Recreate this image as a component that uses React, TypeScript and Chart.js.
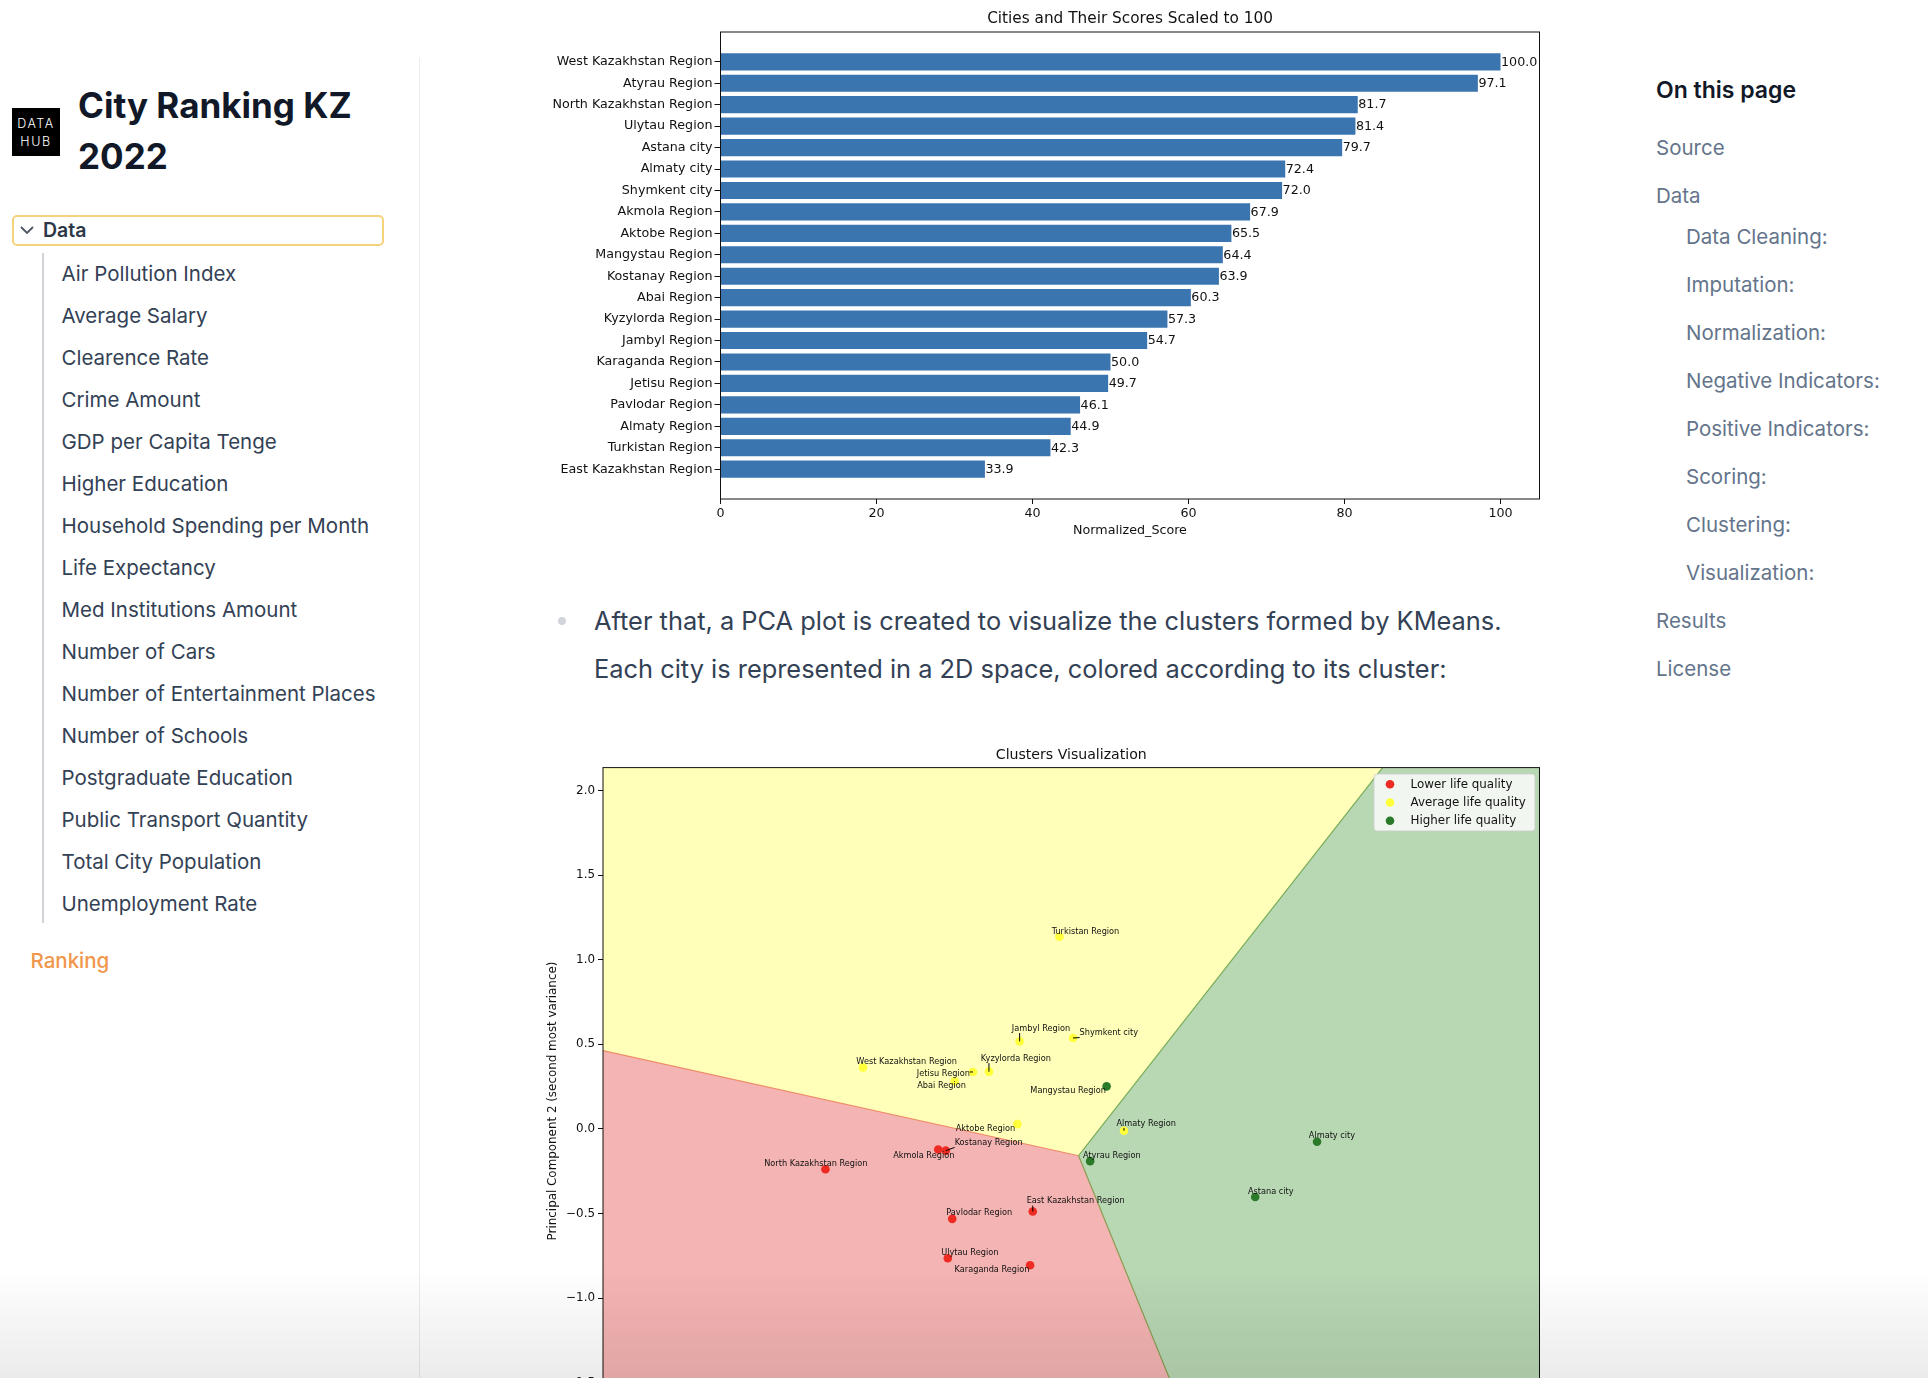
import React, { useEffect, useRef } from "react";
import { Chart, registerables } from "chart.js";

Chart.register(...registerables);

// ---------- Bar chart data ----------
const CITIES = [
  "West Kazakhstan Region", "Atyrau Region", "North Kazakhstan Region", "Ulytau Region",
  "Astana city", "Almaty city", "Shymkent city", "Akmola Region", "Aktobe Region",
  "Mangystau Region", "Kostanay Region", "Abai Region", "Kyzylorda Region", "Jambyl Region",
  "Karaganda Region", "Jetisu Region", "Pavlodar Region", "Almaty Region", "Turkistan Region",
  "East Kazakhstan Region",
];
const SCORES = [100.0, 97.1, 81.7, 81.4, 79.7, 72.4, 72.0, 67.9, 65.5, 64.4, 63.9, 60.3, 57.3, 54.7, 50.0, 49.7, 46.1, 44.9, 42.3, 33.9];
const SCORE_AXIS_MAX = 105;
const SCORE_TICK_STEP = 20;

// ---------- PCA scatter data ----------
const CLUSTER_NAMES = ["Lower life quality", "Average life quality", "Higher life quality"];

const LOWER_CITIES = ["North Kazakhstan Region", "Akmola Region", "Kostanay Region", "Pavlodar Region", "East Kazakhstan Region", "Ulytau Region", "Karaganda Region"];
const LOWER_PC1 = [-1.599, -1.092, -1.058, -1.029, -0.667, -1.049, -0.679];
const LOWER_PC2 = [-0.239, -0.122, -0.129, -0.532, -0.489, -0.765, -0.806];
const LOWER_LABEL_X = [-1.642, -1.157, -0.865, -0.908, -0.474, -0.950, -0.850];
const LOWER_LABEL_Y = [-0.207, -0.157, -0.083, -0.494, -0.427, -0.733, -0.835];

const AVERAGE_CITIES = ["Turkistan Region", "Jambyl Region", "Shymkent city", "West Kazakhstan Region", "Jetisu Region", "Kyzylorda Region", "Abai Region", "Aktobe Region", "Almaty Region"];
const AVERAGE_PC1 = [-0.547, -0.726, -0.486, -1.430, -0.936, -0.864, -1.018, -0.736, -0.257];
const AVERAGE_PC2 = [1.135, 0.517, 0.537, 0.363, 0.336, 0.338, 0.281, 0.028, -0.011];
const AVERAGE_LABEL_X = [-0.430, -0.630, -0.325, -1.234, -1.069, -0.743, -1.077, -0.880, -0.157];
const AVERAGE_LABEL_Y = [1.163, 0.593, 0.566, 0.393, 0.324, 0.415, 0.256, -0.002, 0.032];

const HIGHER_CITIES = ["Mangystau Region", "Atyrau Region", "Almaty city", "Astana city"];
const HIGHER_PC1 = [-0.335, -0.409, 0.611, 0.333];
const HIGHER_PC2 = [0.251, -0.191, -0.076, -0.403];
const HIGHER_LABEL_X = [-0.508, -0.312, 0.678, 0.403];
const HIGHER_LABEL_Y = [0.227, -0.157, -0.044, -0.371];

// KMeans decision boundaries (junction + a point on each boundary ray)
const BOUNDARY_JUNCTION = [-0.461, -0.159];
const BOUNDARY_LOWER_AVERAGE = [-2.599, 0.462];
const BOUNDARY_AVERAGE_HIGHER = [0.906, 2.135];
const BOUNDARY_LOWER_HIGHER = [-0.051, -1.48];
const PC2_TICK_STEP = 0.5;

// ---------- Page text ----------
const DATA_PAGES = [
  "Air Pollution Index", "Average Salary", "Clearence Rate", "Crime Amount", "GDP per Capita Tenge",
  "Higher Education", "Household Spending per Month", "Life Expectancy", "Med Institutions Amount",
  "Number of Cars", "Number of Entertainment Places", "Number of Schools", "Postgraduate Education",
  "Public Transport Quantity", "Total City Population", "Unemployment Rate",
];
const TOC_TOP = ["Source", "Data"];
const TOC_SUB = ["Data Cleaning:", "Imputation:", "Normalization:", "Negative Indicators:", "Positive Indicators:", "Scoring:", "Clustering:", "Visualization:"];
const TOC_BOTTOM = ["Results", "License"];

const MPL_FONT = '"DejaVu Sans"';
const UI_FONT = 'Inter, "Noto Sans", sans-serif';

// ---------- plugins ----------
const spinesPlugin = {
  id: "spines",
  afterDraw(chart: any) {
    const { ctx, chartArea: a } = chart;
    ctx.save();
    ctx.strokeStyle = "#111";
    ctx.lineWidth = 1;
    ctx.strokeRect(a.left, a.top, a.right - a.left, a.bottom - a.top);
    ctx.restore();
  },
};

const axesTitlePlugin = {
  id: "axesTitle",
  afterDraw(chart: any, _args: any, opts: any) {
    const { ctx, chartArea: a } = chart;
    ctx.save();
    ctx.font = `${opts.size}px ${MPL_FONT}`;
    ctx.fillStyle = "#111";
    ctx.textAlign = "center";
    ctx.textBaseline = "middle";
    ctx.fillText(opts.text, (a.left + a.right) / 2, a.top - opts.gap);
    ctx.restore();
  },
};

const barValuesPlugin = {
  id: "barValues",
  afterDatasetsDraw(chart: any) {
    const { ctx } = chart;
    const meta = chart.getDatasetMeta(0);
    ctx.save();
    ctx.font = `12.7px ${MPL_FONT}`;
    ctx.fillStyle = "#111";
    ctx.textAlign = "left";
    ctx.textBaseline = "middle";
    meta.data.forEach((bar: any, i: number) => {
      ctx.fillText(SCORES[i].toFixed(1), bar.x + 0.5, bar.y + 0.5);
    });
    ctx.restore();
  },
};

const regionsPlugin = {
  id: "regions",
  beforeDatasetsDraw(chart: any) {
    const { ctx, chartArea: a, scales } = chart;
    const px = (p: number[]) => [scales.x.getPixelForValue(p[0]), scales.y.getPixelForValue(p[1])];
    const T = px(BOUNDARY_JUNCTION);
    const L = px(BOUNDARY_LOWER_AVERAGE);
    const U = px(BOUNDARY_AVERAGE_HIGHER);
    const B = px(BOUNDARY_LOWER_HIGHER);
    const k = 40;
    ctx.save();
    ctx.beginPath();
    ctx.rect(a.left, a.top, a.right - a.left, a.bottom - a.top);
    ctx.clip();
    const wedge = (P: number[], Q: number[], color: string) => {
      const d1 = [P[0] - T[0], P[1] - T[1]];
      const d2 = [Q[0] - T[0], Q[1] - T[1]];
      ctx.beginPath();
      ctx.moveTo(T[0], T[1]);
      ctx.lineTo(T[0] + k * d1[0], T[1] + k * d1[1]);
      ctx.lineTo(T[0] + k * (d1[0] + d2[0]), T[1] + k * (d1[1] + d2[1]));
      ctx.lineTo(T[0] + k * d2[0], T[1] + k * d2[1]);
      ctx.closePath();
      ctx.fillStyle = color;
      ctx.fill();
    };
    wedge(L, U, "#ffffb9");
    wedge(L, B, "#f4b4b3");
    wedge(U, B, "#b8d7b3");
    const ray = (P: number[], color: string) => {
      ctx.beginPath();
      ctx.moveTo(T[0], T[1]);
      ctx.lineTo(T[0] + k * (P[0] - T[0]), T[1] + k * (P[1] - T[1]));
      ctx.strokeStyle = color;
      ctx.lineWidth = 1.2;
      ctx.stroke();
    };
    ray(L, "#ee8a68");
    ray(U, "#78ad5a");
    ray(B, "#8c9c52");
    ctx.restore();
  },
};

const annotationsPlugin = {
  id: "annotations",
  afterDatasetsDraw(chart: any) {
    const { ctx, scales } = chart;
    ctx.save();
    ctx.font = `8.2px ${MPL_FONT}`;
    ctx.textAlign = "center";
    ctx.textBaseline = "middle";
    chart.data.datasets.forEach((ds: any) => {
      ds.data.forEach((pt: any, i: number) => {
        const px = scales.x.getPixelForValue(pt.x);
        const py = scales.y.getPixelForValue(pt.y);
        const lx = scales.x.getPixelForValue(ds.labelX[i]);
        const ly = scales.y.getPixelForValue(ds.labelY[i]);
        const w = ctx.measureText(ds.names[i]).width;
        const h = 9;
        const cx = Math.min(Math.max(px, lx - w / 2), lx + w / 2);
        const cy = Math.min(Math.max(py, ly - h / 2), ly + h / 2);
        const dist = Math.hypot(cx - px, cy - py);
        if (dist > 2.5) {
          ctx.beginPath();
          ctx.moveTo(px, py);
          ctx.lineTo(cx, cy);
          ctx.strokeStyle = "#000";
          ctx.lineWidth = 1;
          ctx.stroke();
        }
        ctx.fillStyle = "#111";
        ctx.fillText(ds.names[i], lx, ly);
      });
    });
    ctx.restore();
  },
};

const legendPlugin = {
  id: "mplLegend",
  afterDraw(chart: any) {
    const { ctx, chartArea: a } = chart;
    const w = 161;
    const h = 57;
    const x0 = a.right - 4.5 - w;
    const y0 = a.top + 6.4;
    ctx.save();
    ctx.beginPath();
    ctx.roundRect(x0, y0, w, h, 3);
    ctx.fillStyle = "rgba(255,255,255,0.8)";
    ctx.fill();
    ctx.strokeStyle = "rgba(204,204,204,0.8)";
    ctx.lineWidth = 1;
    ctx.stroke();
    ctx.font = `11.9px ${MPL_FONT}`;
    ctx.textAlign = "left";
    ctx.textBaseline = "middle";
    chart.data.datasets.forEach((ds: any, i: number) => {
      const cy = y0 + 10.3 + 18.2 * i;
      ctx.beginPath();
      ctx.arc(x0 + 16, cy, 4.3, 0, Math.PI * 2);
      ctx.fillStyle = ds.backgroundColor;
      ctx.fill();
      ctx.fillStyle = "#111";
      ctx.fillText(ds.label, x0 + 36.5, cy + 0.5);
    });
    ctx.restore();
  },
};

// ---------- charts ----------
function BarChart() {
  const ref = useRef<HTMLCanvasElement | null>(null);
  useEffect(() => {
    if (!ref.current) return;
    const n = CITIES.length;
    const lo = -0.4;
    const hi = n - 1 + 0.4;
    const margin = 0.05 * (hi - lo);
    const chart = new Chart(ref.current, {
      type: "bar",
      data: {
        datasets: [
          {
            label: "Normalized_Score",
            data: SCORES.map((v, i) => ({ x: v, y: i })),
            backgroundColor: "#3b75af",
            borderWidth: 0,
            categoryPercentage: 1,
            barPercentage: 0.8,
          } as any,
        ],
      },
      options: {
        indexAxis: "y",
        animation: false,
        responsive: false,
        devicePixelRatio: 1,
        layout: { padding: { top: 32, right: 10.5, left: 0, bottom: 0 } },
        plugins: {
          legend: { display: false },
          tooltip: { enabled: false },
          axesTitle: { text: "Cities and Their Scores Scaled to 100", size: 15.3, gap: 13.4 },
        } as any,
        scales: {
          x: {
            type: "linear",
            min: 0,
            max: SCORE_AXIS_MAX,
            offset: false,
            border: { display: false },
            grid: { drawOnChartArea: false, drawTicks: true, tickLength: 5, tickColor: "#111", offset: false },
            ticks: {
              stepSize: SCORE_TICK_STEP,
              includeBounds: false,
              padding: 2,
              color: "#111",
              font: { family: MPL_FONT, size: 12.7 },
              maxRotation: 0,
            },
            title: {
              display: true,
              text: "Normalized_Score",
              color: "#111",
              font: { family: MPL_FONT, size: 12.7 },
              padding: { top: 2, bottom: 6.4 },
            },
            afterFit: (s: any) => { s.height = 46; },
          },
          y: {
            type: "linear",
            reverse: true,
            offset: false,
            min: lo - margin,
            max: hi + margin,
            border: { display: false },
            grid: { drawOnChartArea: false, drawTicks: true, tickLength: 6, tickColor: "#111", offset: false },
            afterBuildTicks: (s: any) => { s.ticks = CITIES.map((_, i) => ({ value: i })); },
            ticks: {
              autoSkip: false,
              padding: 2,
              color: "#111",
              font: { family: MPL_FONT, size: 12.7 },
              callback: (v: any) => CITIES[v as number] ?? "",
            },
            afterFit: (s: any) => { s.width = 180.5; },
          },
        } as any,
      },
      plugins: [barValuesPlugin, spinesPlugin, axesTitlePlugin],
    });
    return () => chart.destroy();
  }, []);
  return (
    <canvas
      ref={ref}
      width={1010}
      height={545}
      style={{ position: "absolute", left: 540, top: 0, width: 1010, height: 545 }}
    />
  );
}

function ScatterChart() {
  const ref = useRef<HTMLCanvasElement | null>(null);
  useEffect(() => {
    if (!ref.current) return;
    const allX = [...LOWER_PC1, ...AVERAGE_PC1, ...HIGHER_PC1];
    const allY = [...LOWER_PC2, ...AVERAGE_PC2, ...HIGHER_PC2];
    const xMin = Math.min(...allX) - 1;
    const xMax = Math.max(...allX) + 1;
    const yMin = Math.min(...allY) - 1;
    const yMax = Math.max(...allY) + 1;
    const mk = (label: string, color: string, names: string[], xs: number[], ys: number[], lxs: number[], lys: number[]) => ({
      label,
      data: xs.map((x, i) => ({ x, y: ys[i] })),
      backgroundColor: color,
      borderWidth: 0,
      pointRadius: 4.3,
      pointHoverRadius: 4.3,
      names,
      labelX: lxs,
      labelY: lys,
    });
    const chart = new Chart(ref.current, {
      type: "scatter",
      data: {
        datasets: [
          mk(CLUSTER_NAMES[0], "#ee2b22", LOWER_CITIES, LOWER_PC1, LOWER_PC2, LOWER_LABEL_X, LOWER_LABEL_Y),
          mk(CLUSTER_NAMES[1], "#ffff3a", AVERAGE_CITIES, AVERAGE_PC1, AVERAGE_PC2, AVERAGE_LABEL_X, AVERAGE_LABEL_Y),
          mk(CLUSTER_NAMES[2], "#2a7a2a", HIGHER_CITIES, HIGHER_PC1, HIGHER_PC2, HIGHER_LABEL_X, HIGHER_LABEL_Y),
        ] as any,
      },
      options: {
        animation: false,
        responsive: false,
        devicePixelRatio: 1,
        layout: { padding: { top: 32.6, right: 10.5, left: 0, bottom: 20.6 } },
        plugins: {
          legend: { display: false },
          tooltip: { enabled: false },
          axesTitle: { text: "Clusters Visualization", size: 14.1, gap: 12.6 },
        } as any,
        scales: {
          x: { type: "linear", min: xMin, max: xMax, display: false },
          y: {
            type: "linear",
            min: yMin,
            max: yMax,
            border: { display: false },
            grid: { drawOnChartArea: false, drawTicks: true, tickLength: 5, tickColor: "#111" },
            ticks: {
              stepSize: PC2_TICK_STEP,
              includeBounds: false,
              padding: 3,
              color: "#111",
              font: { family: MPL_FONT, size: 11.9 },
              callback: (v: any) => Number(v).toFixed(1).replace("-", "\u2212"),
            },
            title: {
              display: true,
              text: "Principal Component 2 (second most variance)",
              color: "#111",
              font: { family: MPL_FONT, size: 11.9 },
              padding: { top: 15.9, bottom: 0 },
            },
            afterFit: (s: any) => { s.width = 73; },
          },
        } as any,
      },
      plugins: [regionsPlugin, annotationsPlugin, spinesPlugin, legendPlugin, axesTitlePlugin],
    });
    return () => chart.destroy();
  }, []);
  return (
    <canvas
      ref={ref}
      width={1020}
      height={720}
      style={{ position: "absolute", left: 530, top: 735, width: 1020, height: 720 }}
    />
  );
}

// ---------- page ----------
function Line({ text, left, cy, size, color, weight = 400, lh = 30 }: any) {
  return (
    <div
      style={{
        position: "absolute",
        left,
        top: cy - lh / 2,
        height: lh,
        lineHeight: `${lh}px`,
        fontSize: size,
        color,
        fontWeight: weight,
        whiteSpace: "nowrap",
        fontFamily: UI_FONT,
      }}
    >
      {text}
    </div>
  );
}

export default function App() {
  return (
    <div style={{ position: "fixed", inset: 0, overflow: "hidden", background: "#fff", fontFamily: UI_FONT }}>
      {/* Left sidebar */}
      <div style={{ position: "absolute", left: 12, top: 108, width: 48, height: 48, background: "#000" }}>
        <div style={{ position: "absolute", left: 0, width: 48, top: 8, textAlign: "center", color: "#fff", fontSize: 12.5, lineHeight: "15px", letterSpacing: 1.6, fontWeight: 300, fontFamily: UI_FONT }}>DATA</div>
        <div style={{ position: "absolute", left: 0, width: 48, top: 26, textAlign: "center", color: "#fff", fontSize: 12.5, lineHeight: "15px", letterSpacing: 1.6, fontWeight: 300, fontFamily: UI_FONT }}>HUB</div>
      </div>
      <Line text="City Ranking KZ" left={78} cy={105} size={35} color="#111827" weight={700} lh={44} />
      <Line text="2022" left={78} cy={156} size={35} color="#111827" weight={700} lh={44} />

      <div style={{ position: "absolute", left: 11.5, top: 215, width: 368, height: 27, border: "2px solid #f5d27c", borderRadius: 5 }} />
      <svg style={{ position: "absolute", left: 19, top: 224 }} width={16} height={12}>
        <polyline points="2,3 8,9 14,3" fill="none" stroke="#4b5563" strokeWidth={1.8} />
      </svg>
      <Line text="Data" left={43} cy={230} size={19.5} color="#2d3748" weight={600} />
      <div style={{ position: "absolute", left: 42, top: 253, width: 1.5, height: 670, background: "#cfd2d6" }} />
      {DATA_PAGES.map((t, i) => (
        <Line key={t} text={t} left={61.5} cy={273.7 + 42 * i} size={20.5} color="#334155" />
      ))}
      <Line text="Ranking" left={30.5} cy={961} size={20.5} color="#f0974b" weight={500} />
      <div style={{ position: "absolute", left: 419, top: 58, width: 1, bottom: 0, background: "#ececec" }} />

      {/* Right TOC */}
      <Line text="On this page" left={1656} cy={89.8} size={23} color="#111827" weight={600} />
      {TOC_TOP.map((t, i) => (
        <Line key={t} text={t} left={1656} cy={147.6 + 48 * i} size={20.5} color="#64748b" />
      ))}
      {TOC_SUB.map((t, i) => (
        <Line key={t} text={t} left={1686} cy={237.3 + 48 * i} size={20.5} color="#64748b" />
      ))}
      {TOC_BOTTOM.map((t, i) => (
        <Line key={t} text={t} left={1656} cy={621 + 48 * i} size={20.5} color="#64748b" />
      ))}

      {/* Charts and text */}
      <BarChart />
      <div style={{ position: "absolute", left: 558, top: 617, width: 8, height: 8, borderRadius: 4, background: "#d1d5db" }} />
      <Line text="After that, a PCA plot is created to visualize the clusters formed by KMeans." left={594} cy={621} size={25.4} color="#334155" lh={36} />
      <Line text="Each city is represented in a 2D space, colored according to its cluster:" left={594} cy={669} size={25.4} color="#334155" lh={36} />
      <ScatterChart />

      <div style={{ position: "absolute", left: 0, right: 0, top: 1268, height: 110, background: "linear-gradient(to bottom, rgba(0,0,0,0), rgba(0,0,0,0.08))", pointerEvents: "none" }} />
    </div>
  );
}
